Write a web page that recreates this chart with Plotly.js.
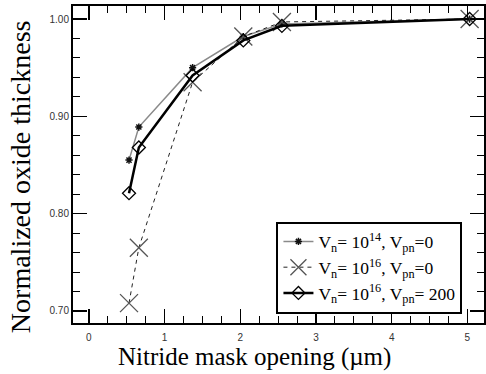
<!DOCTYPE html>
<html><head><meta charset="utf-8">
<script src="https://cdn.plot.ly/plotly-3.0.1.min.js"></script>
<style>html,body{margin:0;padding:0;background:#fff}#c{width:486px;height:374px}</style>
</head><body><div id="c"></div>
<script>
const opening = [0.53, 0.66, 1.37, 2.04, 2.55, 5.03];
const thick_n14_pn0 = [0.855, 0.889, 0.950, 0.982, 0.995, 1.000];
const thick_n16_pn0 = [0.708, 0.765, 0.935, 0.982, 0.997, 1.000];
const thick_n16_pn200 = [0.821, 0.868, 0.942, 0.978, 0.993, 1.000];
const names = [
  'V<sub>n</sub>= 10<sup>14</sup>, V<sub>pn</sub>=0',
  'V<sub>n</sub>= 10<sup>16</sup>, V<sub>pn</sub>=0',
  'V<sub>n</sub>= 10<sup>16</sup>, V<sub>pn</sub>= 200'
];
const xTicks = [0, 1, 2, 3, 4, 5];
const yTicks = [0.70, 0.80, 0.90, 1.00];
const xTitle = 'Nitride mask opening (\u00b5m)';
const yTitle = 'Normalized oxide thickness';

const traces = [
  {x: opening, y: thick_n14_pn0, name: names[0], mode: 'lines+markers',
   line: {color: '#8a8a8a', width: 1.5},
   marker: {symbol: 'asterisk-open', size: 6, color: '#111', line: {width: 1.5, color: '#111'}}},
  {x: opening, y: thick_n16_pn0, name: names[1], mode: 'lines+markers',
   line: {color: '#222', width: 1, dash: '4px,4px'},
   marker: {symbol: 'x-thin-open', size: 18, color: '#555', line: {width: 1.3, color: '#555'}}},
  {x: opening, y: thick_n16_pn200, name: names[2], mode: 'lines+markers',
   line: {color: '#000', width: 2.5},
   marker: {symbol: 'diamond-open', size: 10, color: '#000', line: {width: 1.3, color: '#000'}}}
];

const axCommon = {
  showgrid: false, zeroline: false, showline: true, linecolor: '#000', linewidth: 2,
  mirror: 'allticks', ticks: 'inside', ticklen: 14, tickwidth: 1.2, tickcolor: '#000',
  tickfont: {family: 'Liberation Sans, Arial, sans-serif', size: 10, color: '#333'}
};
const serif = 'Liberation Serif, Times New Roman, serif';

const layout = {
  width: 486, height: 374,
  margin: {l: 73, r: 2, t: 6, b: 51},
  paper_bgcolor: '#fff', plot_bgcolor: '#fff',
  showlegend: true,
  legend: {x: 0.495, y: 0.32, xanchor: 'left', yanchor: 'top',
    bgcolor: '#fff', bordercolor: '#000', borderwidth: 2,
    font: {family: serif, size: 17.5, color: '#000'},
    tracegroupgap: 0, itemwidth: 30},
  xaxis: Object.assign({}, axCommon, {
    range: [-0.21, 5.22], tickvals: xTicks, ticktext: xTicks.map(String),
    ticklabelstandoff: 4,
    minor: {dtick: 0.25, ticks: 'inside', ticklen: 7, tickcolor: '#000', tickwidth: 1}
  }),
  yaxis: Object.assign({}, axCommon, {
    range: [0.6876, 1.0134], tickvals: yTicks, ticktext: yTicks.map(v => v.toFixed(2)),
    minor: {dtick: 0.02, ticks: 'inside', ticklen: 7, tickcolor: '#000', tickwidth: 1}
  }),
  annotations: [
    {text: xTitle, xref: 'paper', yref: 'paper', x: (255 - 73) / 412, y: -(357 - 323) / 317,
     xanchor: 'center', yanchor: 'middle', showarrow: false,
     font: {family: serif, size: 25, color: '#000'}},
    {text: yTitle, xref: 'paper', yref: 'paper', x: -(73 - 20) / 412, y: (323 - 177) / 317,
     xanchor: 'center', yanchor: 'middle', showarrow: false, textangle: -90,
     font: {family: serif, size: 28, color: '#000'}}
  ]
};
Plotly.newPlot('c', traces, layout, {displayModeBar: false, staticPlot: true});
</script></body></html>
